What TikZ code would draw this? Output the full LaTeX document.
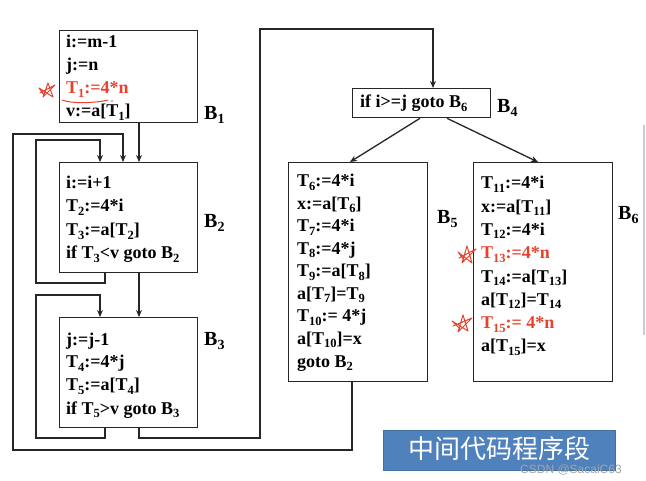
\documentclass[tikz,border=0pt]{standalone}
\usepackage{fontspec}
\setmainfont{Liberation Serif}
\newfontfamily\cjk{Noto Sans CJK SC}
\newfontfamily\wmfont{Liberation Sans}
\usetikzlibrary{arrows.meta}
\definecolor{redink}{HTML}{E8422C}
\definecolor{bluebox}{HTML}{4F81BD}
\definecolor{blueedge}{HTML}{41719C}
\newcommand\subs[1]{\raisebox{-0.4ex}{\fontsize{12.5}{13}\selectfont #1}}
\newcommand\lsub[1]{\raisebox{-0.4ex}{\fontsize{14}{15}\selectfont #1}}
\begin{document}
\begin{tikzpicture}[x=1pt,y=-1pt,
 blk/.style={draw=black!85, line width=1.3pt, rectangle, inner sep=0pt, anchor=north west},
 code/.style={anchor=base west, inner sep=0pt, font=\fontsize{18}{22}\selectfont\bfseries},
 redcode/.style={code, text=redink},
 lbl/.style={anchor=base west, inner sep=0pt, font=\fontsize{20}{24}\selectfont\bfseries},
 arr/.style={line width=1.3pt, draw=black!85, -{Stealth[length=7pt,width=6pt]}},
 ln/.style={line width=1.3pt, draw=black!85},
 scribble/.style={draw=redink, line width=1pt, line join=round, line cap=round},
]
\useasboundingbox (0,0) rectangle (646,481);
\fill[white] (0,0) rectangle (646,481);

% boxes
\node[blk, minimum width=138pt, minimum height=92pt] (B1) at (59,30) {};
\node[blk, minimum width=138pt, minimum height=110pt] (B2) at (59,162) {};
\node[blk, minimum width=138pt, minimum height=110pt] (B3) at (59,317) {};
\node[blk, minimum width=138pt, minimum height=29pt] (B4) at (352,88) {};
\node[blk, minimum width=139pt, minimum height=219pt] (B5) at (288,162) {};
\node[blk, minimum width=139pt, minimum height=219pt] (B6) at (473,162) {};

% B1 text
\node[code] (b1a) at (66,48) {i:=m-1};
\node[code] (b1b) at (66,71) {j:=n};
\node[redcode] (b1c) at (66,94) {T\subs{1}:=4*n};
\node[code] (b1d) at (66,117) {v:=a[T\subs{1}]};
\node[lbl] (L1) at (204,120) {B\lsub{1}};

% B2 text
\node[code] (b2a) at (66,189) {i:=i+1};
\node[code] (b2b) at (66,212) {T\subs{2}:=4*i};
\node[code] (b2c) at (66,236) {T\subs{3}:=a[T\subs{2}]};
\node[code] (b2d) at (66,259) {if T\subs{3}<v goto B\subs{2}};
\node[lbl] (L2) at (204,228) {B\lsub{2}};

% B3 text
\node[code] (b3a) at (66,345) {j:=j-1};
\node[code] (b3b) at (66,368) {T\subs{4}:=4*j};
\node[code] (b3c) at (66,391) {T\subs{5}:=a[T\subs{4}]};
\node[code] (b3d) at (66,414) {if T\subs{5}>v goto B\subs{3}};
\node[lbl] (L3) at (204,346) {B\lsub{3}};

% B4 text
\node[code] (b4a) at (360,108) {if i>=j goto B\subs{6}};
\node[lbl] (L4) at (497,113) {B\lsub{4}};

% B5 text
\node[code] (b5a) at (297,187) {T\subs{6}:=4*i};
\node[code] (b5b) at (297,209.5) {x:=a[T\subs{6}]};
\node[code] (b5c) at (297,232) {T\subs{7}:=4*i};
\node[code] (b5d) at (297,254.5) {T\subs{8}:=4*j};
\node[code] (b5e) at (297,277) {T\subs{9}:=a[T\subs{8}]};
\node[code] (b5f) at (297,299.5) {a[T\subs{7}]=T\subs{9}};
\node[code] (b5g) at (297,322) {T\subs{10}:= 4*j};
\node[code] (b5h) at (297,344.5) {a[T\subs{10}]=x};
\node[code] (b5i) at (297,367) {goto B\subs{2}};
\node[lbl] (L5) at (437,224) {B\lsub{5}};

% B6 text
\node[code] (b6a) at (481,189) {T\subs{11}:=4*i};
\node[code] (b6b) at (481,212.3) {x:=a[T\subs{11}]};
\node[code] (b6c) at (481,235.6) {T\subs{12}:=4*i};
\node[redcode] (b6d) at (481,258.9) {T\subs{13}:=4*n};
\node[code] (b6e) at (481,282.2) {T\subs{14}:=a[T\subs{13}]};
\node[code] (b6f) at (481,305.5) {a[T\subs{12}]=T\subs{14}};
\node[redcode] (b6g) at (481,328.8) {T\subs{15}:= 4*n};
\node[code] (b6h) at (481,352) {a[T\subs{15}]=x};
\node[lbl] (L6) at (618,220) {B\lsub{6}};

% connector corner coordinates
\coordinate (i2bl) at (36,283);
\coordinate (i2tl) at (36,140);
\coordinate (i3bl) at (36,438);
\coordinate (i3tl) at (36,295);
\coordinate (obl) at (13,450);
\coordinate (otl) at (13,134);
\coordinate (b4br) at (260,438);
\coordinate (b4tl) at (260,29);

% B1 -> B2
\draw[arr] ([xshift=80pt]B1.south west) -- ([xshift=80pt]B2.north west);
% B2 self loop
\draw[arr] ([xshift=46pt]B2.south west) |- (i2bl) -- (i2tl) -| ([xshift=41pt]B2.north west);
% B5 -> B2
\draw[arr] ([xshift=64pt]B5.south west) |- (obl) -- (otl) -| ([xshift=64pt]B2.north west);
% B2 -> B3
\draw[arr] ([xshift=80pt]B2.south west) -- ([xshift=80pt]B3.north west);
% B3 self loop
\draw[arr] ([xshift=46pt]B3.south west) |- (i3bl) -- (i3tl) -| ([xshift=41pt]B3.north west);
% B3 -> B4
\draw[arr] ([xshift=80pt]B3.south west) |- (b4br) -- (b4tl) -| ([xshift=81pt]B4.north west);
% B4 -> B5, B4 -> B6
\draw[arr] ([xshift=68pt]B4.south west) -- ([xshift=62pt]B5.north west);
\draw[arr] ([xshift=95pt]B4.south west) -- ([xshift=65pt]B6.north west);

% red annotations
\draw[scribble] (40,93) -- (55,85) -- (43,97) -- (48,83) -- (53,97) -- (39,88) -- (44,95);
\draw[scribble] (62,100) .. controls (72,104) and (96,103) .. (108,100);
\fill[redink] (112,101) circle (0.8pt);
\draw[scribble] (459,258) -- (476,249) -- (462,263) -- (467,246) -- (472,263) -- (458,252) -- (464,260);
\draw[scribble] (453,326) -- (472,318) -- (458,332) -- (463,315) -- (468,331) -- (452,321) -- (460,329);

% right edge grey line
\draw[line width=2pt, draw={rgb,255:red,200;green,204;blue,216}] (644,125) -- (644,335);

% blue title box
\node[blk, draw=blueedge, fill=bluebox, line width=1pt, minimum width=232pt, minimum height=40pt] (title) at (383,430) {};
\node[text=white, font=\cjk\fontsize{26}{30}\selectfont, inner sep=0pt] (titletext) at ([yshift=2pt]title.center) {中间代码程序段};
\node[text=black!35, font=\wmfont\fontsize{12}{14}\selectfont, anchor=base west, inner sep=0pt] (wm) at (520,473) {CSDN @SacaiC63};
\end{tikzpicture}
\end{document}
